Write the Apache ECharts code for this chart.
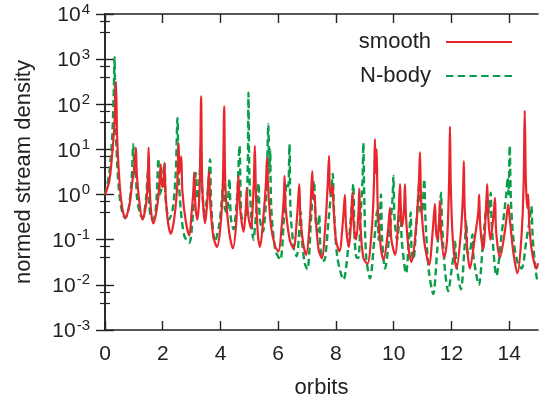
<!DOCTYPE html>
<html>
<head>
<meta charset="utf-8">
<script src="https://cdn.jsdelivr.net/npm/echarts@6/dist/echarts.min.js"></script>
<style>html,body{margin:0;padding:0;background:#fff}#c{width:546px;height:404px}</style>
</head>
<body>
<div id="c"></div>
<script>
// ---- data (x in orbits, y = normed stream density) ----
const seriesNames = ['smooth', 'N-body'];
const xTicks = [0, 2, 4, 6, 8, 10, 12, 14];
const yTickExponents = [-3, -2, -1, 0, 1, 2, 3, 4];

const smoothPts = [
 [0,1.0],[0.15,2],[0.25,8],[0.33,40],[0.38,316],[0.42,20],[0.5,2],[0.6,0.5],[0.7,0.3],[0.85,0.6],[0.95,2],
 [1.0,3],[1.07,11],[1.1,3],[1.2,0.6],[1.3,0.28],[1.42,0.6],[1.48,2],[1.51,11],[1.54,2],[1.6,0.4],[1.68,0.23],
 [1.8,0.5],[1.88,1.5],[1.93,4.7],[1.97,1.5],[2.02,1.5],[2.06,5],[2.1,1],[2.18,0.25],[2.28,0.135],[2.4,0.3],
 [2.5,1.5],[2.55,14],[2.58,3],[2.64,7],[2.68,1.2],[2.8,0.25],[2.92,0.125],[3.0,0.4],[3.06,1.2],[3.09,3.1],
 [3.13,0.6],[3.2,0.28],[3.28,1.5],[3.33,150],[3.37,1.5],[3.47,0.23],[3.55,0.8],[3.6,3.3],[3.65,0.6],[3.75,0.12],
 [3.88,0.069],[4.0,0.2],[4.08,1.5],[4.13,90],[4.17,1.5],[4.3,0.15],[4.43,0.064],[4.55,0.25],[4.62,2.6],[4.68,0.5],
 [4.8,0.15],[4.88,0.5],[4.91,1.35],[4.95,0.4],[5.05,0.18],[5.15,1.5],[5.19,12],[5.23,1],[5.3,0.12],[5.37,0.069],
 [5.5,0.4],[5.58,2],[5.61,6.6],[5.65,1.5],[5.75,0.2],[5.9,0.07],[6.01,0.055],[6.12,0.2],[6.2,1],[6.22,2.6],
 [6.26,0.5],[6.4,0.1],[6.53,0.064],[6.65,0.3],[6.73,1.7],[6.77,0.3],[6.87,0.08],[6.97,0.046],[7.1,0.3],[7.18,3.3],
 [7.22,0.8],[7.26,1],[7.3,0.3],[7.4,0.06],[7.51,0.039],[7.65,0.3],[7.72,2],[7.76,7.2],[7.8,1],[7.88,1.6],[7.92,0.5],
 [8.0,0.1],[8.12,0.055],[8.25,0.3],[8.31,0.98],[8.35,0.2],[8.45,0.069],[8.53,0.3],[8.57,1.1],[8.62,0.2],[8.7,0.1],
 [8.78,0.4],[8.81,1.35],[8.85,0.2],[8.95,0.04],[9.09,0.029],[9.25,0.2],[9.32,2],[9.35,17],[9.38,3],[9.41,10],
 [9.45,0.5],[9.55,0.07],[9.65,0.036],[9.8,0.15],[9.87,0.51],[9.92,0.1],[10.05,0.046],[10.17,0.4],[10.22,1.7],
 [10.26,0.3],[10.3,0.2],[10.36,0.5],[10.39,1.7],[10.43,0.3],[10.52,0.06],[10.62,0.032],[10.78,0.2],[10.87,1.5],
 [10.91,8.7],[10.95,0.8],[11.05,0.1],[11.23,0.028],[11.35,0.15],[11.43,0.62],[11.47,0.15],[11.52,0.1],[11.58,0.3],
 [11.6,0.72],[11.64,0.15],[11.75,0.04],[11.85,0.1],[11.92,2],[11.95,32],[11.98,1.5],[12.05,0.1],[12.18,0.023],
 [12.33,0.15],[12.4,1],[12.43,5.5],[12.46,0.5],[12.55,0.06],[12.64,0.023],[12.8,0.1],[12.93,0.4],[12.96,1],
 [13.0,0.2],[13.1,0.06],[13.2,0.5],[13.24,1.7],[13.28,0.3],[13.35,0.1],[13.45,0.3],[13.51,0.85],[13.55,0.15],
 [13.68,0.04],[13.85,0.15],[13.93,0.4],[13.97,0.6],[14.02,0.3],[14.15,0.05],[14.29,0.018],[14.42,0.1],[14.5,1.5],
 [14.54,72],[14.58,2],[14.63,0.5],[14.66,1],[14.7,0.2],[14.8,0.05],[14.95,0.023],[15,0.03]
];

const nbodyPts = [
 [0,1.0],[0.15,3],[0.25,20],[0.3,150],[0.33,1100],[0.36,50],[0.42,5],[0.5,1],[0.6,0.4],[0.7,0.3],[0.82,0.5],
 [0.92,2],[0.98,13],[1.02,3],[1.06,6],[1.1,1],[1.2,0.4],[1.3,0.3],[1.42,0.8],[1.49,3.3],[1.53,0.6],[1.6,0.3],
 [1.68,0.28],[1.78,0.7],[1.85,6.3],[1.9,1],[1.97,1.5],[2.06,5],[2.1,0.8],[2.22,0.28],[2.35,0.5],[2.45,3],
 [2.51,50],[2.55,3],[2.62,0.5],[2.75,0.12],[2.92,0.085],[3.05,0.4],[3.15,3],[3.2,0.8],[3.27,2],[3.32,11],
 [3.36,1.5],[3.45,0.4],[3.55,1],[3.64,6],[3.68,0.6],[3.81,0.09],[3.95,0.2],[4.05,0.8],[4.1,2.2],[4.15,0.5],
 [4.22,0.4],[4.31,2.2],[4.36,0.3],[4.45,0.17],[4.58,1],[4.66,12],[4.7,1],[4.75,0.3],[4.85,0.3],[4.94,3],
 [4.97,180],[5.0,3],[5.07,0.3],[5.14,0.1],[5.25,0.5],[5.32,1.8],[5.36,0.3],[5.47,0.15],[5.58,0.8],[5.66,36],
 [5.69,3],[5.72,10],[5.76,0.5],[5.9,0.06],[6.07,0.036],[6.2,0.3],[6.3,1.8],[6.35,1.5],[6.39,13],[6.43,0.4],
 [6.55,0.06],[6.64,0.043],[6.74,0.2],[6.78,0.42],[6.82,0.1],[6.92,0.03],[7.01,0.022],[7.15,0.4],[7.24,2],
 [7.29,0.3],[7.36,0.15],[7.42,0.36],[7.47,0.06],[7.59,0.034],[7.75,0.3],[7.85,1.5],[7.89,2.9],[7.93,0.5],
 [8.05,0.04],[8.26,0.013],[8.45,0.1],[8.55,0.6],[8.6,1.7],[8.65,0.1],[8.72,0.04],[8.78,0.04],[8.85,0.3],
 [8.92,2],[8.95,14],[8.98,1],[9.05,0.04],[9.18,0.014],[9.33,0.1],[9.43,0.45],[9.48,0.1],[9.52,0.3],[9.56,1],
 [9.6,0.1],[9.7,0.023],[9.88,0.2],[9.96,0.8],[9.99,2.6],[10.03,0.3],[10.12,0.1],[10.2,0.3],[10.24,0.6],
 [10.28,0.1],[10.43,0.018],[10.52,0.08],[10.59,0.4],[10.62,0.06],[10.68,0.036],[10.8,0.3],[10.89,1.9],
 [10.93,0.4],[10.98,0.4],[11.06,2.2],[11.1,0.3],[11.22,0.02],[11.37,0.0063],[11.5,0.05],[11.6,0.4],[11.64,1.1],
 [11.68,0.2],[11.78,0.02],[11.89,0.0072],[12.0,0.02],[12.1,0.06],[12.13,0.09],[12.17,0.03],[12.33,0.008],
 [12.45,0.06],[12.52,0.25],[12.56,0.05],[12.62,0.05],[12.73,0.13],[12.77,0.04],[12.95,0.01],[13.1,0.1],
 [13.2,0.5],[13.24,0.9],[13.3,0.4],[13.36,1.1],[13.4,0.2],[13.56,0.016],[13.75,0.15],[13.9,1],[13.95,2.4],
 [13.98,1],[14.02,12],[14.06,0.8],[14.15,0.1],[14.3,0.03],[14.43,0.023],[14.6,0.1],[14.72,0.3],[14.77,0.55],
 [14.82,0.1],[14.95,0.015],[15,0.012]
];

const RED = '#e8262c';
const GREEN = '#0a9e4a';
const AXIS = '#222';
const FONT = 'Liberation Sans, Arial, sans-serif';

const chart = echarts.init(document.getElementById('c'), null, {renderer: 'canvas'});

function yFmt(v) {
  const e = Math.round(Math.log10(v));
  if (yTickExponents.indexOf(e) < 0) return '';
  return '{b|10}{e|' + e + '}';
}

const axisLineStyle = {show: true, lineStyle: {color: AXIS, width: 1.6}};
const dashIcon = 'path://M0,0h7v2h-7z M11,0h7v2h-7z M22,0h7v2h-7z M33,0h7v2h-7z M44,0h7v2h-7z M55,0h7v2h-7z';

const legendBase = {
  right: 34, orient: 'vertical', align: 'right', padding: 0,
  itemWidth: 66,
  textStyle: {fontFamily: FONT, fontSize: 22, color: '#222', padding: [0, 10, 0, 0]}
};

const option = {
  animation: false,
  backgroundColor: '#fff',
  grid: {left: 105, right: 8, top: 14, bottom: 71, containLabel: false},
  legend: [
    Object.assign({}, legendBase, {data: [{name: seriesNames[0], icon: 'rect'}], top: 31, itemHeight: 2.2}),
    Object.assign({}, legendBase, {data: [{name: seriesNames[1], icon: dashIcon}], top: 65, itemHeight: 2.4})
  ],
  xAxis: [
    {
      type: 'value', min: 0, max: 15, interval: 2, position: 'bottom',
      name: 'orbits', nameLocation: 'middle', nameGap: 47,
      nameTextStyle: {fontFamily: FONT, fontSize: 22, color: '#222'},
      axisLine: axisLineStyle,
      axisTick: {show: true, inside: true, length: 9, lineStyle: {color: AXIS, width: 1.4},
        customValues: xTicks},
      axisLabel: {fontFamily: FONT, fontSize: 21, color: '#222', margin: 14,
        customValues: xTicks},
      splitLine: {show: false}
    },
    {
      type: 'value', min: 0, max: 15, interval: 2, position: 'top',
      axisLine: axisLineStyle,
      axisTick: {show: true, inside: true, length: 9, lineStyle: {color: AXIS, width: 1.4},
        customValues: xTicks},
      axisLabel: {show: false},
      splitLine: {show: false}
    }
  ],
  yAxis: [
    {
      type: 'log', logBase: 10, min: 0.001, max: 10000, position: 'left',
      name: 'normed stream density', nameLocation: 'middle', nameGap: 70,
      nameTextStyle: {fontFamily: FONT, fontSize: 22, color: '#222'},
      axisLine: axisLineStyle,
      axisTick: {show: true, inside: true, length: 9, lineStyle: {color: AXIS, width: 1.4}},
      minorTick: {show: true, splitNumber: 3, length: 5, lineStyle: {color: AXIS, width: 1.2}},
      axisLabel: {
        fontFamily: FONT, fontSize: 21, color: '#222', margin: 15, formatter: yFmt,
        rich: {
          b: {fontFamily: FONT, fontSize: 21, color: '#222', verticalAlign: 'bottom'},
          e: {fontFamily: FONT, fontSize: 15, color: '#222', verticalAlign: 'top', padding: [0, 0, 9, 1]}
        }
      },
      splitLine: {show: false}
    },
    {
      type: 'log', logBase: 10, min: 0.001, max: 10000, position: 'right',
      axisLine: axisLineStyle,
      axisTick: {show: true, inside: true, length: 9, lineStyle: {color: AXIS, width: 1.4}},
      minorTick: {show: true, splitNumber: 3, length: 5, lineStyle: {color: AXIS, width: 1.2}},
      axisLabel: {show: false},
      splitLine: {show: false}
    }
  ],
  series: [
    {
      name: seriesNames[0], type: 'line', xAxisIndex: 0, yAxisIndex: 0,
      data: smoothPts, symbol: 'none', smooth: 0.3, z: 3,
      lineStyle: {color: RED, width: 2.2}, itemStyle: {color: RED}
    },
    {
      name: seriesNames[1], type: 'line', xAxisIndex: 0, yAxisIndex: 0,
      data: nbodyPts, symbol: 'none', smooth: 0.3, z: 2,
      lineStyle: {color: GREEN, width: 2.4, type: [7, 4]}, itemStyle: {color: GREEN}
    }
  ]
};
chart.setOption(option);
</script>
</body>
</html>
